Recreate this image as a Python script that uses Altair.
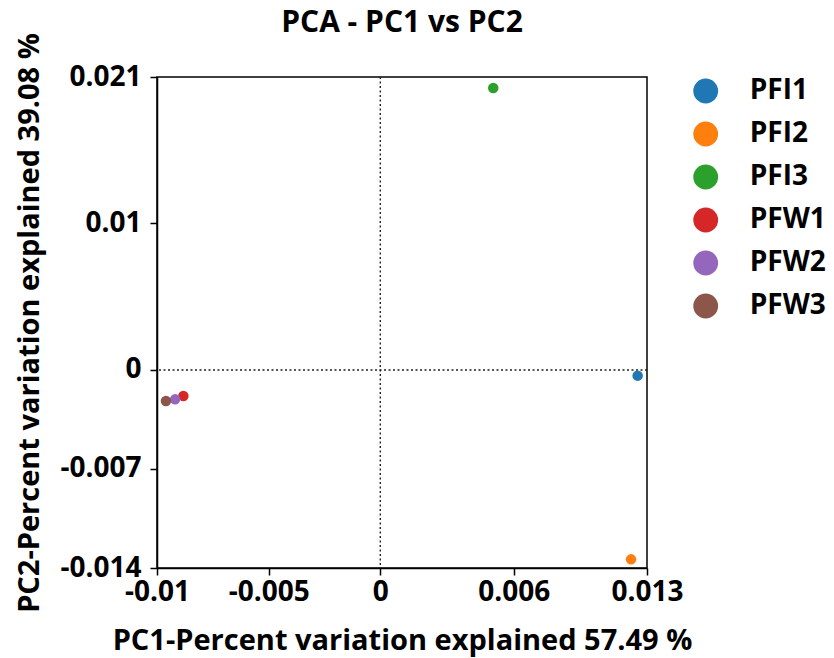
import altair as alt
import pandas as pd

# Data
samples = ["PFI1", "PFI2", "PFI3", "PFW1", "PFW2", "PFW3"]
pc1 = [0.01210, 0.01179, 0.00531, -0.00926, -0.00965, -0.01008]
pc2 = [-0.00041, -0.01358, 0.02021, -0.00187, -0.00211, -0.00223]
colors = ["#1f77b4", "#ff7f0e", "#2ca02c", "#d62728", "#9467bd", "#8c564b"]

x_tick_values = [-0.0105, -0.00525, 0.0, 0.00627, 0.01254]
x_tick_labels = ["-0.01", "-0.005", "0", "0.006", "0.013"]
y_tick_values = [-0.0142, -0.0071, 0.0, 0.0105, 0.0210]
y_tick_labels = ["-0.014", "-0.007", "0", "0.01", "0.021"]

x_domain = [-0.0105, 0.01254]
y_domain = [-0.0142, 0.0210]

FONT = "Open Sans"


def label_expr(values, labels):
    expr = "''"
    for v, l in reversed(list(zip(values, labels))):
        expr = f"abs(datum.value - ({v})) < 0.0005 ? '{l}' : " + expr
    return expr


df = pd.DataFrame({"PC1": pc1, "PC2": pc2, "Sample": samples})

x_scale = alt.Scale(domain=x_domain, nice=False, zero=False)
y_scale = alt.Scale(domain=y_domain, nice=False, zero=False)

x_axis = alt.Axis(
    title="PC1-Percent variation explained 57.49 %",
    values=x_tick_values,
    labelExpr=label_expr(x_tick_values, x_tick_labels),
    labelBaseline="alphabetic",
    labelPadding=25,
    titleX=245,
    titleY=81.5,
    titleAlign="center",
    titleBaseline="alphabetic",
)
y_axis = alt.Axis(
    title="PC2-Percent variation explained 39.08 %",
    values=y_tick_values,
    labelExpr=label_expr(y_tick_values, y_tick_labels),
    labelPadding=9,
    titleX=-118.7,
    titleY=245.5,
    titleAngle=270,
    titleAlign="center",
    titleBaseline="alphabetic",
)

points = alt.Chart(df).mark_circle(size=110, opacity=1).encode(
    x=alt.X("PC1:Q", scale=x_scale, axis=x_axis),
    y=alt.Y("PC2:Q", scale=y_scale, axis=y_axis),
    color=alt.Color(
        "Sample:N",
        scale=alt.Scale(domain=samples, range=colors),
        legend=alt.Legend(
            title=None,
            orient="none",
            legendX=534.7,
            legendY=0,
            symbolType="circle",
            symbolSize=616,
            symbolStrokeWidth=0,
            symbolOpacity=1,
            labelFont=FONT,
            labelFontSize=28,
            labelFontWeight="bold",
            labelColor="black",
            labelOffset=30,
            rowPadding=15,
            padding=0,
        ),
    ),
)

vline = alt.Chart(pd.DataFrame({"x": [0.0]})).mark_rule(
    color="#222222", strokeDash=[2, 2.5], strokeWidth=1.4
).encode(x=alt.X("x:Q", scale=x_scale))
hline = alt.Chart(pd.DataFrame({"y": [0.0]})).mark_rule(
    color="#222222", strokeDash=[2, 2.5], strokeWidth=1.4
).encode(y=alt.Y("y:Q", scale=y_scale))

chart = (
    alt.layer(vline, hline, points)
    .properties(
        width=490,
        height=491,
        autosize="none",
        padding={"left": 157, "top": 77, "right": 187, "bottom": 90},
        title=alt.TitleParams(
            "PCA - PC1 vs PC2",
            font=FONT,
            fontSize=30,
            fontWeight="bold",
            color="black",
            anchor="middle",
            frame="group",
            baseline="alphabetic",
            offset=0,
            dy=29,
        ),
    )
    .configure_view(stroke="black", strokeWidth=1.5)
    .configure_axis(
        grid=False,
        domainColor="black",
        domainWidth=1.5,
        tickColor="black",
        tickWidth=1.5,
        tickSize=7,
        labelFont=FONT,
        labelFontSize=28,
        labelFontWeight="bold",
        labelColor="black",
        labelOverlap=False,
        labelFlush=False,
        titleFont=FONT,
        titleFontSize=29,
        titleFontWeight="bold",
        titleColor="black",
    )
)

chart.save("out.html", embed_options={"renderer": "svg", "actions": False})
